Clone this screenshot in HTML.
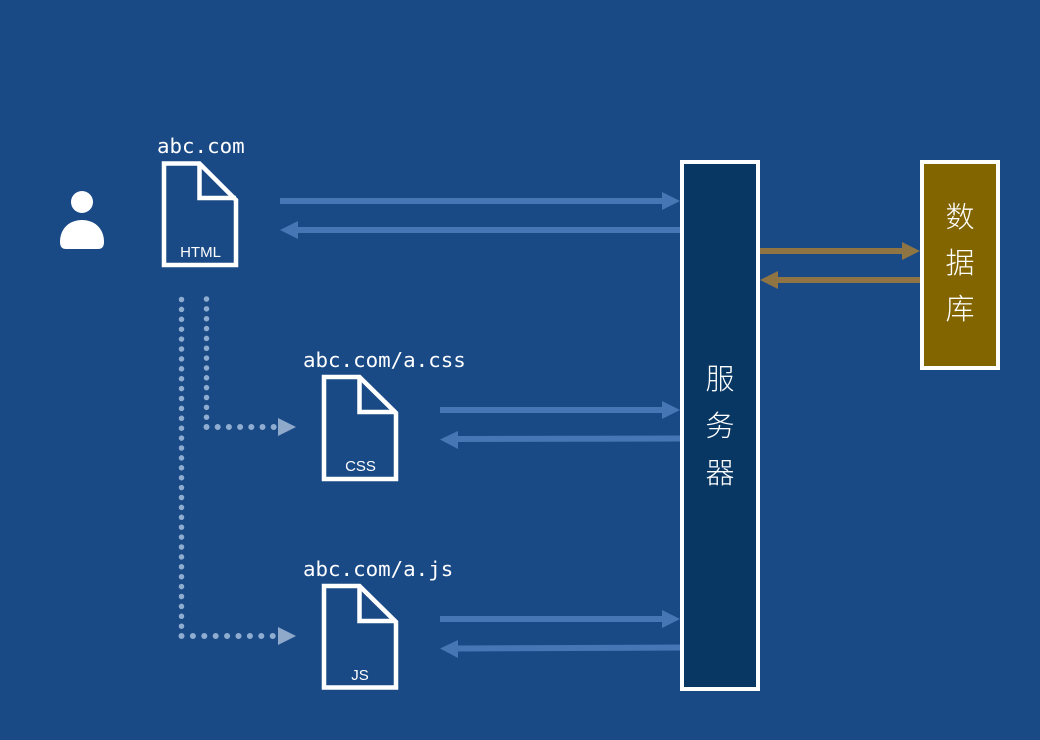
<!DOCTYPE html>
<html><head><meta charset="utf-8">
<style>
html,body{margin:0;padding:0;background:#1a4a86;width:1040px;height:740px;overflow:hidden}
svg{display:block}
.m{font-family:"DejaVu Sans Mono","Liberation Mono",monospace;font-size:20.8px;fill:#fff}
.s{font-family:"Liberation Sans",sans-serif;font-size:15px;fill:#fff;text-anchor:middle}
.c{font-family:"Noto Sans CJK SC","Liberation Sans",sans-serif;font-size:29px;font-weight:300;fill:#fff;text-anchor:middle}
</style></head><body>
<svg width="1040" height="740" viewBox="0 0 1040 740" xmlns="http://www.w3.org/2000/svg">
<rect width="1040" height="740" fill="#1a4a86"/>

<!-- user -->
<circle cx="82" cy="202" r="11" fill="#fff"/>
<path d="M60 242 C60 228 70 220 82 220 C94 220 104 228 104 242 Q104 249 98 249 L66 249 Q60 249 60 242 Z" fill="#fff"/>

<!-- docs -->
<g fill="none" stroke="#fff" stroke-width="4.500">
<path d="M164 163.500 H199.500 L236 200 V265 H164 Z"/><path d="M199.500 163.500 V198 H236"/>
<path d="M324 377 H359.500 L396 413 V479 H324 Z"/><path d="M359.500 377 V412 H396"/>
<path d="M324 586 H359.500 L396 622 V687.500 H324 Z"/><path d="M359.500 586 V621 H396"/>
</g>
<text class="m" x="157" y="153">abc.com</text>
<text class="m" x="303" y="367">abc.com/a.css</text>
<text class="m" x="303" y="576">abc.com/a.js</text>
<text class="s" x="200.500" y="257">HTML</text>
<text class="s" x="360.500" y="471">CSS</text>
<text class="s" x="360" y="680">JS</text>

<!-- dotted -->
<g fill="none" stroke="#8fadd0" stroke-linecap="round">
<path d="M206.500 299 V418" stroke-width="5.500" stroke-dasharray="0 9.850"/>
<path d="M206.500 427 H275" stroke-width="6" stroke-dasharray="0 11.200"/>
<path d="M181.500 299.500 V627" stroke-width="5.500" stroke-dasharray="0 9.900"/>
<path d="M181.500 636 H275" stroke-width="6" stroke-dasharray="0 11.400"/>
</g>
<path d="M278 418 L296 427 L278 436 Z" fill="#8fa9cb"/>
<path d="M278 627 L296 636 L278 645 Z" fill="#8fa9cb"/>

<!-- blue arrows -->
<g fill="#4676b4">
<rect x="280" y="198" width="384" height="6"/><path d="M662 192 L680 201 L662 210 Z"/>
<rect x="298" y="227" width="384" height="6"/><path d="M298 221 L280 230 L298 239 Z"/>
<rect x="440" y="407" width="224" height="6"/><path d="M662 401 L680 410 L662 419 Z"/>
<path d="M458 436 L681 435.500 V441.500 L458 442 Z"/><path d="M458 431 L440 439.500 L458 449 Z"/>
<rect x="440" y="616" width="224" height="6"/><path d="M662 610 L680 619 L662 628 Z"/>
<path d="M458 645.500 L681 644.500 V650.500 L458 651.500 Z"/><path d="M458 640 L440 648.500 L458 658 Z"/>
</g>

<!-- brown arrows -->
<g fill="#8f7444">
<rect x="760" y="248" width="144" height="6"/><path d="M902 242 L920 251 L902 260 Z"/>
<rect x="776" y="277" width="144" height="6"/><path d="M778 271 L760 280 L778 289 Z"/>
</g>

<!-- server -->
<rect x="682" y="162" width="76" height="527" fill="#083764" stroke="#fff" stroke-width="4"/>
<text class="c" x="720" y="389">服</text>
<text class="c" x="720" y="436">务</text>
<text class="c" x="720" y="483">器</text>

<!-- db -->
<rect x="922" y="162" width="76" height="206" fill="#836500" stroke="#fff" stroke-width="4"/>
<text class="c" x="960" y="227">数</text>
<text class="c" x="960" y="273">据</text>
<text class="c" x="960" y="319">库</text>
</svg>
</body></html>
